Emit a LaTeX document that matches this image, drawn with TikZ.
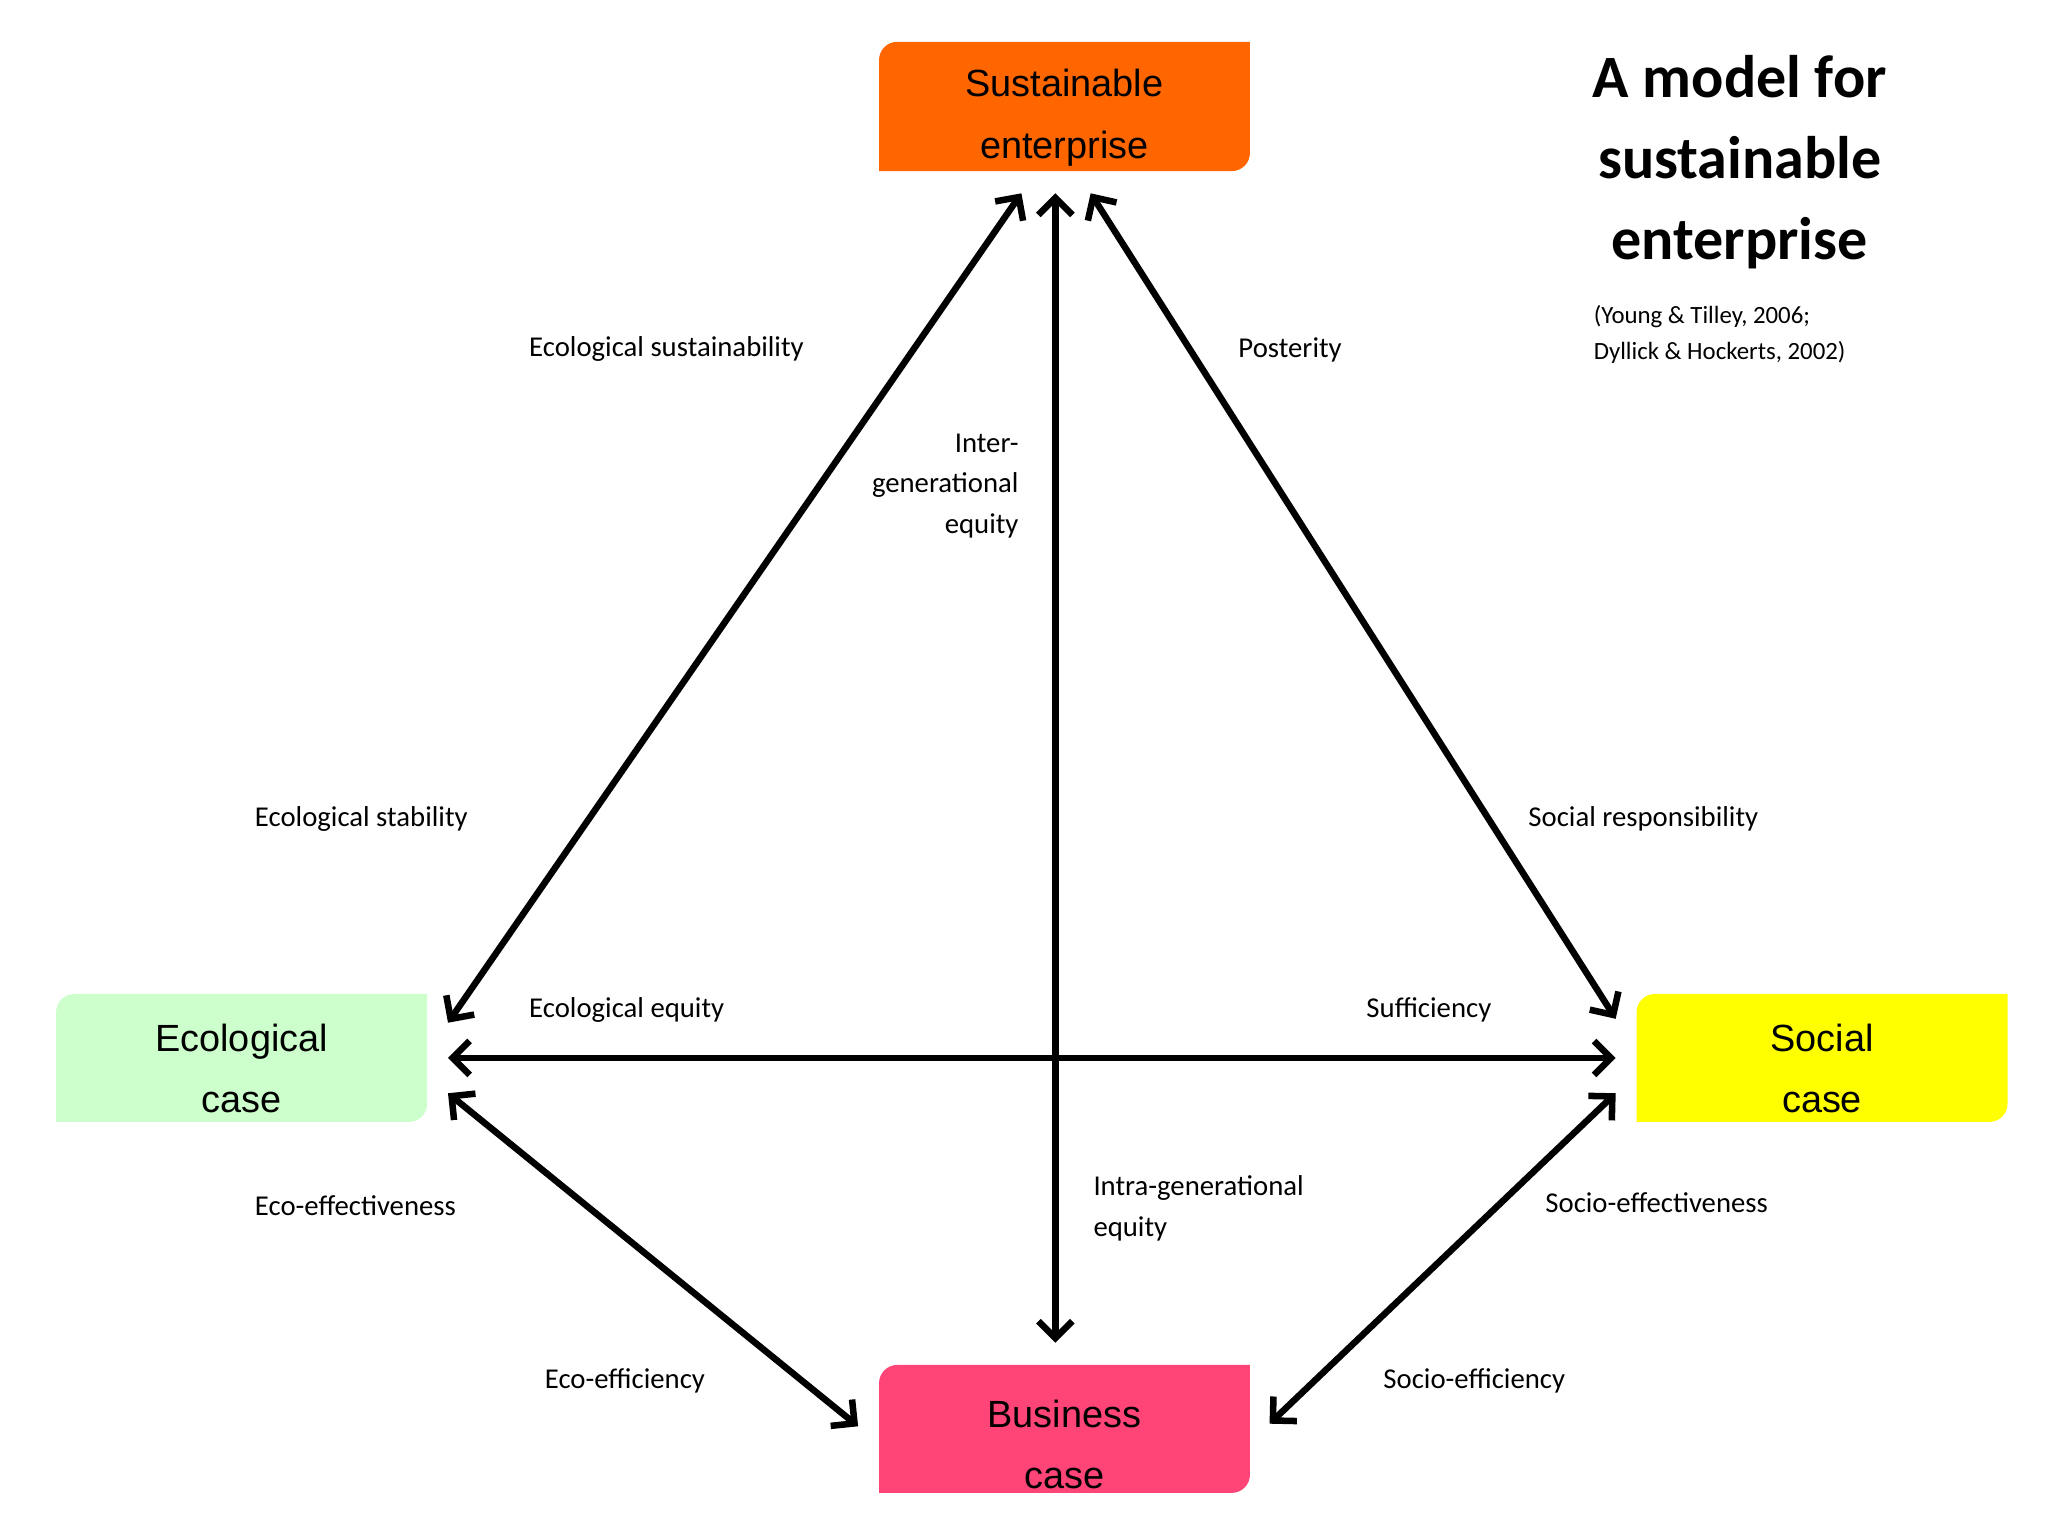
\documentclass[tikz,border=0pt]{standalone}
\usepackage{fontspec}
\setmainfont{Carlito}
\newfontfamily\boxfont{Liberation Sans}
\usetikzlibrary{arrows.meta}
\begin{document}
\begin{tikzpicture}[x=1pt,y=1pt,
  lbl/.style={font=\fontsize{22}{31}\selectfont,inner sep=0pt},
  boxtxt/.style={font=\boxfont\fontsize{29}{47}\selectfont,align=center,inner sep=0pt},
  link/.style={line width=5pt,{Straight Barb[length=13pt,width=26pt,line width=5pt]}-{Straight Barb[length=13pt,width=26pt,line width=5pt]}}]
\useasboundingbox (0,0) rectangle (1568,-1176);
\fill[white] (0,0) rectangle (1568,-1176);
\newcommand\rbox[5]{\fill[#5] (#1,-#4) -- (#1,-#2-14) arc[start angle=180,end angle=90,radius=14] -- (#3,-#2) -- (#3,-#4+14) arc[start angle=0,end angle=-90,radius=14] -- cycle;}
\definecolor{orangeb}{HTML}{FF6600}
\definecolor{greenb}{HTML}{CCFFCC}
\definecolor{yellowb}{HTML}{FFFF00}
\definecolor{pinkb}{HTML}{FF4477}
\rbox{673}{32}{957}{131}{orangeb}
\rbox{43}{761}{327}{859}{greenb}
\rbox{1253}{761}{1537}{859}{yellowb}
\rbox{673}{1045}{957}{1143}{pinkb}
\node[boxtxt] (se) at (815,-90) {Sustainable\\enterprise};
\node[boxtxt] (ec) at (185,-818) {Ecological\\case};
\node[boxtxt] (sc) at (1395,-818) {Social\\case};
\node[boxtxt] (bc) at (815,-1106) {Business\\case};
\coordinate (t1) at (782,-148); \coordinate (e1) at (343,-783);
\coordinate (t2) at (808,-148); \coordinate (b2) at (808,-1028);
\coordinate (t3) at (835,-148); \coordinate (s3) at (1237,-780);
\coordinate (e4) at (343,-810); \coordinate (s4) at (1237,-810);
\coordinate (e5) at (343,-837); \coordinate (b5) at (657,-1092);
\coordinate (s6) at (1237,-837); \coordinate (b6) at (972,-1090);
\draw[link] (t1) -- (e1);
\draw[link] (t2) -- (b2);
\draw[link] (t3) -- (s3);
\draw[link] (e4) -- (s4);
\draw[link] (e5) -- (b5);
\draw[link] (s6) -- (b6);
\node[lbl,anchor=west] (l1) at (405,-267) {Ecological sustainability};
\node[lbl,anchor=east,align=right] (l2) at (780,-372) {Inter-\\generational\\equity};
\node[lbl,anchor=west] (l3) at (948,-268) {Posterity};
\node[lbl,anchor=west] (l4) at (195,-627) {Ecological stability};
\node[lbl,anchor=west] (l5) at (1170,-627) {Social responsibility};
\node[lbl,anchor=west] (l6) at (405,-773) {Ecological equity};
\node[lbl,anchor=west] (l7) at (1046,-773) {Sufficiency};
\node[lbl,anchor=west] (l8) at (195,-923) {Eco-effectiveness};
\node[lbl,anchor=west,align=left] (l9) at (837,-925) {Intra-generational\\equity};
\node[lbl,anchor=west] (l10) at (1183,-921) {Socio-effectiveness};
\node[lbl,anchor=west] (l11) at (417,-1057) {Eco-efficiency};
\node[lbl,anchor=west] (l12) at (1059,-1057) {Socio-efficiency};
\node[font=\bfseries\fontsize{46}{62}\selectfont,align=center,inner sep=0pt] (title) at (1332,-124) {A model for\\sustainable\\enterprise};
\node[font=\fontsize{19}{28}\selectfont,align=left,anchor=west,inner sep=0pt] (ref) at (1220,-256) {(Young \& Tilley, 2006;\\Dyllick \& Hockerts, 2002)};
\end{tikzpicture}
\end{document}
